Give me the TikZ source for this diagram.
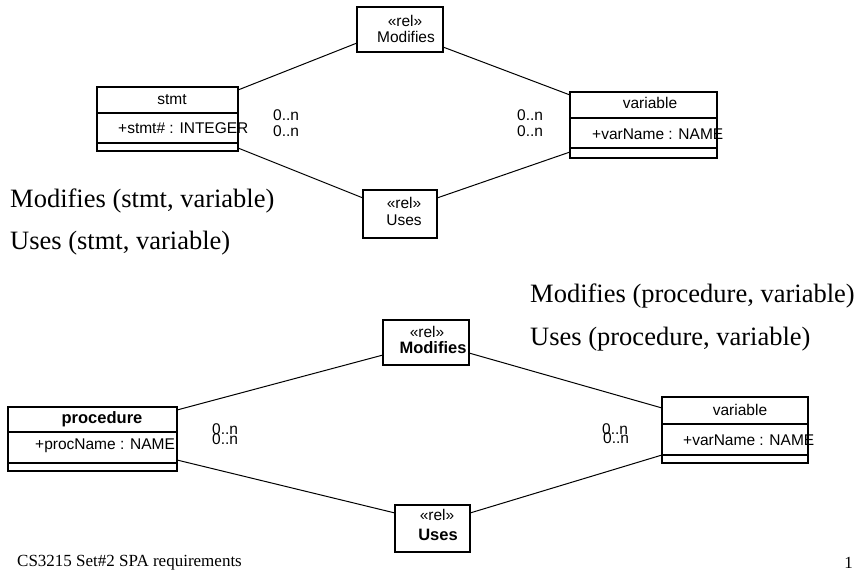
\documentclass[tikz,border=0pt]{standalone}
\usepackage{fontspec}
\setmainfont{Liberation Serif}
\newfontfamily\umlfont{Liberation Sans}
\begin{document}
\begin{tikzpicture}[x=1pt,y=-1pt,
  umlbox/.style={draw, line width=1.1pt, inner sep=0pt, outer sep=0pt, anchor=north west},
  divider/.style={line width=2.2pt},
  assoc/.style={line width=1pt},
  umltext/.style={font=\umlfont\fontsize{15.5}{16}\selectfont, inner sep=0pt},
  umlbold/.style={font=\umlfont\bfseries\fontsize{16.5}{17}\selectfont, inner sep=0pt},
  mult/.style={font=\umlfont\fontsize{15.5}{16}\selectfont, inner sep=0pt, anchor=west},
  note/.style={font=\fontsize{26.5}{28}\selectfont, inner sep=0pt, anchor=west},
  footer/.style={font=\fontsize{17}{18}\selectfont, inner sep=0pt}
]
\useasboundingbox (0,0) rectangle (861,575);

% ---------- statement / variable relations ----------
\node[umlbox, minimum width=141pt, minimum height=64pt] (stmt) at (97,87) {};
\draw[divider] ([yshift=-26pt]stmt.north west) -- ([yshift=-26pt]stmt.north east);
\draw[divider] ([yshift=-56pt]stmt.north west) -- ([yshift=-56pt]stmt.north east);
\node[umltext] (stmtname) at (172,100) {stmt};
\node[umltext, anchor=west] (stmtattr) at (118,128) {+stmt\# : INTEGER};

\node[umlbox, minimum width=147pt, minimum height=66pt] (varA) at (570,92) {};
\draw[divider] ([yshift=-26pt]varA.north west) -- ([yshift=-26pt]varA.north east);
\draw[divider] ([yshift=-56pt]varA.north west) -- ([yshift=-56pt]varA.north east);
\node[umltext] (varAname) at (650,103) {variable};
\node[umltext, anchor=west] (varAattr) at (592,134) {+varName : NAME};

\node[umlbox, minimum width=86pt, minimum height=45pt] (modA) at (357,7) {};
\node[umltext] (modAst) at (405,21) {«rel»};
\node[umltext] (modAname) at (406,37) {Modifies};

\node[umlbox, minimum width=74pt, minimum height=48pt] (usesA) at (363,190) {};
\node[umltext] (usesAst) at (404,203) {«rel»};
\node[umltext] (usesAname) at (404,220) {Uses};

\draw[assoc] ([yshift=-3pt]stmt.north east) -- ([yshift=9pt]modA.south west);
\draw[assoc] ([yshift=5pt]modA.south east) -- ([yshift=-3pt]varA.north west);
\draw[assoc] ([yshift=3pt]stmt.south east) -- ([yshift=-8pt]usesA.north west);
\draw[assoc] ([yshift=-8pt]usesA.north east) -- ([yshift=6pt]varA.south west);

\node[mult] (mA1) at (273,115) {0..n};
\node[mult] (mA2) at (273,131) {0..n};
\node[mult] (mA3) at (517,115) {0..n};
\node[mult] (mA4) at (517,131) {0..n};

\node[note] (relA1) at (10,201) {Modifies (stmt, variable)};
\node[note] (relA2) at (10,243) {Uses (stmt, variable)};

% ---------- procedure / variable relations ----------
\node[note] (relB1) at (530,296) {Modifies (procedure, variable)};
\node[note] (relB2) at (530,339) {Uses (procedure, variable)};

\node[umlbox, minimum width=169pt, minimum height=64pt] (proc) at (8,407) {};
\draw[divider] ([yshift=-25pt]proc.north west) -- ([yshift=-25pt]proc.north east);
\draw[divider] ([yshift=-56pt]proc.north west) -- ([yshift=-56pt]proc.north east);
\node[umlbold] (procname) at (102,419) {procedure};
\node[umltext, anchor=west] (procattr) at (35,446) {+procName : NAME};

\node[umlbox, minimum width=146pt, minimum height=66pt] (varB) at (662,397) {};
\draw[divider] ([yshift=-27pt]varB.north west) -- ([yshift=-27pt]varB.north east);
\draw[divider] ([yshift=-58pt]varB.north west) -- ([yshift=-58pt]varB.north east);
\node[umltext] (varBname) at (740,410) {variable};
\node[umltext, anchor=west] (varBattr) at (683,440) {+varName : NAME};

\node[umlbox, minimum width=86pt, minimum height=45pt] (modB) at (383,320) {};
\node[umltext] (modBst) at (427,332) {«rel»};
\node[umlbold] (modBname) at (433,348) {Modifies};

\node[umlbox, minimum width=75pt, minimum height=47pt] (usesB) at (395,505) {};
\node[umltext] (usesBst) at (437,515) {«rel»};
\node[umlbold] (usesBname) at (438,535) {Uses};

\draw[assoc] ([yshift=-3pt]proc.north east) -- ([yshift=10pt]modB.south west);
\draw[assoc] ([yshift=12pt]modB.south east) -- ([yshift=-11pt]varB.north west);
\draw[assoc] ([yshift=11pt]proc.south east) -- ([yshift=-8pt]usesB.north west);
\draw[assoc] ([yshift=-8pt]usesB.north east) -- ([yshift=8pt]varB.south west);

% stacked multiplicities, printed on top of each other
\node[mult] (mB1) at (212,429) {0..n};
\node[mult] (mB2) at (212,439) {0..n};
\node[mult] (mB3) at (602,429) {0..n};
\node[mult] (mB4) at (603,438) {0..n};

% ---------- footer ----------
\node[footer, anchor=west] (foot) at (17,563) {CS3215 Set\#2 SPA requirements};
\node[footer, anchor=east] (page) at (853,563) {1};
\end{tikzpicture}
\end{document}
